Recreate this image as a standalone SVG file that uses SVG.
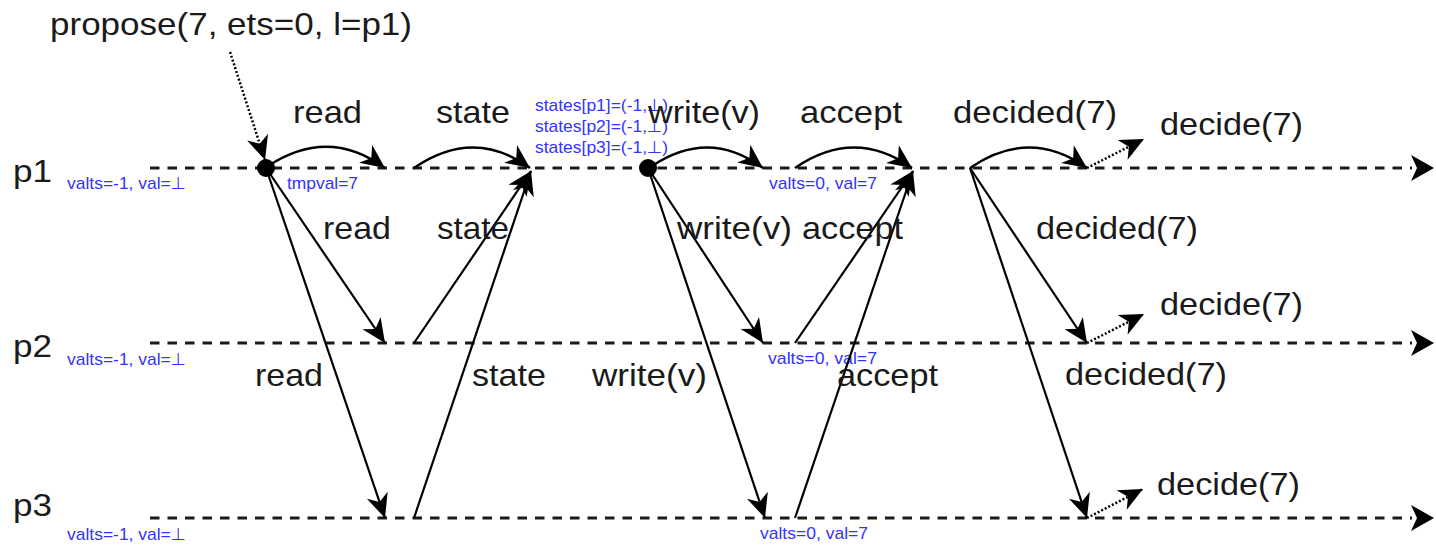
<svg xmlns="http://www.w3.org/2000/svg" width="1436" height="545" viewBox="0 0 1436 545">
<style>
.big{font-family:"Liberation Sans",Arial,sans-serif;font-size:32px;fill:#1a1a1a;}
.blue{font-family:"Liberation Sans","DejaVu Sans",sans-serif;font-size:17px;fill:#3333ff;}
.life{stroke:#1a1a1a;stroke-width:3;stroke-dasharray:9.5 8;fill:none;}
.msg{stroke:#000;stroke-width:2.2;fill:none;marker-end:url(#ah);}
.arc{stroke:#000;stroke-width:2.5;fill:none;marker-end:url(#ah);}
.dot{stroke:#000;stroke-width:2.5;stroke-dasharray:2 2;fill:none;marker-end:url(#ah);}
</style>
<defs>
<marker id="ah" markerUnits="userSpaceOnUse" viewBox="-26 -13 28 26" refX="0" refY="0" markerWidth="28" markerHeight="26" orient="auto" overflow="visible">
<path d="M0,0 L-24,-11 L-17,0 L-24,11 Z" fill="#000"/>
</marker>
</defs>

<g id="lifeline-p1">
<line class="life" x1="150" y1="168" x2="1412" y2="168"/>
<path d="M1434,168 L1411,155 L1417,168 L1411,181 Z" fill="#000"/>
<text class="big" x="13" y="182" textLength="39" lengthAdjust="spacingAndGlyphs">p1</text>
<text class="blue" x="67" y="189" textLength="119" lengthAdjust="spacingAndGlyphs">valts=-1, val=⊥</text>
</g>
<g id="lifeline-p2">
<line class="life" x1="150" y1="343" x2="1412" y2="343"/>
<path d="M1434,343 L1411,330 L1417,343 L1411,356 Z" fill="#000"/>
<text class="big" x="13" y="357" textLength="39" lengthAdjust="spacingAndGlyphs">p2</text>
<text class="blue" x="67" y="365" textLength="119" lengthAdjust="spacingAndGlyphs">valts=-1, val=⊥</text>
</g>
<g id="lifeline-p3">
<line class="life" x1="150" y1="518" x2="1412" y2="518"/>
<path d="M1434,518 L1411,505 L1417,518 L1411,531 Z" fill="#000"/>
<text class="big" x="13" y="516" textLength="39" lengthAdjust="spacingAndGlyphs">p3</text>
<text class="blue" x="67" y="540" textLength="119" lengthAdjust="spacingAndGlyphs">valts=-1, val=⊥</text>
</g>

<g id="propose">
<text class="big" x="50" y="35" textLength="362" lengthAdjust="spacingAndGlyphs">propose(7, ets=0, l=p1)</text>
</g>
<g id="event-p1-start">
<circle cx="266" cy="168" r="9" fill="#000"/>
<text class="blue" x="287" y="189" textLength="71" lengthAdjust="spacingAndGlyphs">tmpval=7</text>
</g>
<g id="states-note">
<text class="blue" x="535" y="111" textLength="133" lengthAdjust="spacingAndGlyphs">states[p1]=(-1,⊥)</text>
<text class="blue" x="535" y="132" textLength="133" lengthAdjust="spacingAndGlyphs">states[p2]=(-1,⊥)</text>
<text class="blue" x="535" y="153" textLength="133" lengthAdjust="spacingAndGlyphs">states[p3]=(-1,⊥)</text>
</g>
<g id="event-p1-write">
<circle cx="648" cy="168" r="9" fill="#000"/>
</g>
<g id="accepted-values">
<text class="blue" x="769" y="189" textLength="108" lengthAdjust="spacingAndGlyphs">valts=0, val=7</text>
<text class="blue" x="768" y="364" textLength="109" lengthAdjust="spacingAndGlyphs">valts=0, val=7</text>
<text class="blue" x="760" y="539" textLength="108" lengthAdjust="spacingAndGlyphs">valts=0, val=7</text>
</g>

<g id="connectors">
<line class="dot" x1="230" y1="52" x2="265" y2="160"/>
<path class="arc" d="M268,166 C300,145 340,135 385,168"/>
<path class="arc" d="M414,168 C446,146 486,136 530,168"/>
<path class="arc" d="M652,166 C682,146 720,136 763,168"/>
<path class="arc" d="M795,168 C827,146 867,136 912,168"/>
<path class="arc" d="M970,168 C1002,146 1042,136 1087,168"/>
<line class="msg" x1="266" y1="168" x2="385" y2="343"/>
<line class="msg" x1="266" y1="168" x2="385" y2="518"/>
<line class="msg" x1="414" y1="343" x2="531" y2="171"/>
<line class="msg" x1="414" y1="518" x2="531" y2="171"/>
<line class="msg" x1="648" y1="168" x2="763" y2="343"/>
<line class="msg" x1="648" y1="168" x2="765" y2="518"/>
<line class="msg" x1="795" y1="343" x2="913" y2="171"/>
<line class="msg" x1="795" y1="518" x2="913" y2="171"/>
<line class="msg" x1="970" y1="168" x2="1087" y2="343"/>
<line class="msg" x1="970" y1="168" x2="1087" y2="518"/>
<line class="dot" x1="1087" y1="168" x2="1144" y2="139"/>
<line class="dot" x1="1087" y1="343" x2="1144" y2="314"/>
<line class="dot" x1="1087" y1="518" x2="1143" y2="489"/>
</g>

<g id="labels">
<text class="big" x="293" y="123" textLength="69" lengthAdjust="spacingAndGlyphs">read</text>
<text class="big" x="436" y="123" textLength="74" lengthAdjust="spacingAndGlyphs">state</text>
<text class="big" x="648" y="123" textLength="112" lengthAdjust="spacingAndGlyphs">write(v)</text>
<text class="big" x="800" y="123" textLength="102" lengthAdjust="spacingAndGlyphs">accept</text>
<text class="big" x="953" y="123" textLength="164" lengthAdjust="spacingAndGlyphs">decided(7)</text>
<text class="big" x="1160" y="135" textLength="143" lengthAdjust="spacingAndGlyphs">decide(7)</text>
<text class="big" x="323" y="239" textLength="68" lengthAdjust="spacingAndGlyphs">read</text>
<text class="big" x="437" y="239" textLength="72" lengthAdjust="spacingAndGlyphs">state</text>
<text class="big" x="677" y="239" textLength="115" lengthAdjust="spacingAndGlyphs">write(v)</text>
<text class="big" x="802" y="239" textLength="101" lengthAdjust="spacingAndGlyphs">accept</text>
<text class="big" x="1036" y="239" textLength="162" lengthAdjust="spacingAndGlyphs">decided(7)</text>
<text class="big" x="1160" y="315" textLength="143" lengthAdjust="spacingAndGlyphs">decide(7)</text>
<text class="big" x="1065" y="385" textLength="162" lengthAdjust="spacingAndGlyphs">decided(7)</text>
<text class="big" x="1157" y="495" textLength="143" lengthAdjust="spacingAndGlyphs">decide(7)</text>
<text class="big" x="255" y="386" textLength="68" lengthAdjust="spacingAndGlyphs">read</text>
<text class="big" x="472" y="386" textLength="74" lengthAdjust="spacingAndGlyphs">state</text>
<text class="big" x="592" y="386" textLength="115" lengthAdjust="spacingAndGlyphs">write(v)</text>
<text class="big" x="837" y="386" textLength="101" lengthAdjust="spacingAndGlyphs">accept</text>
</g>
</svg>
